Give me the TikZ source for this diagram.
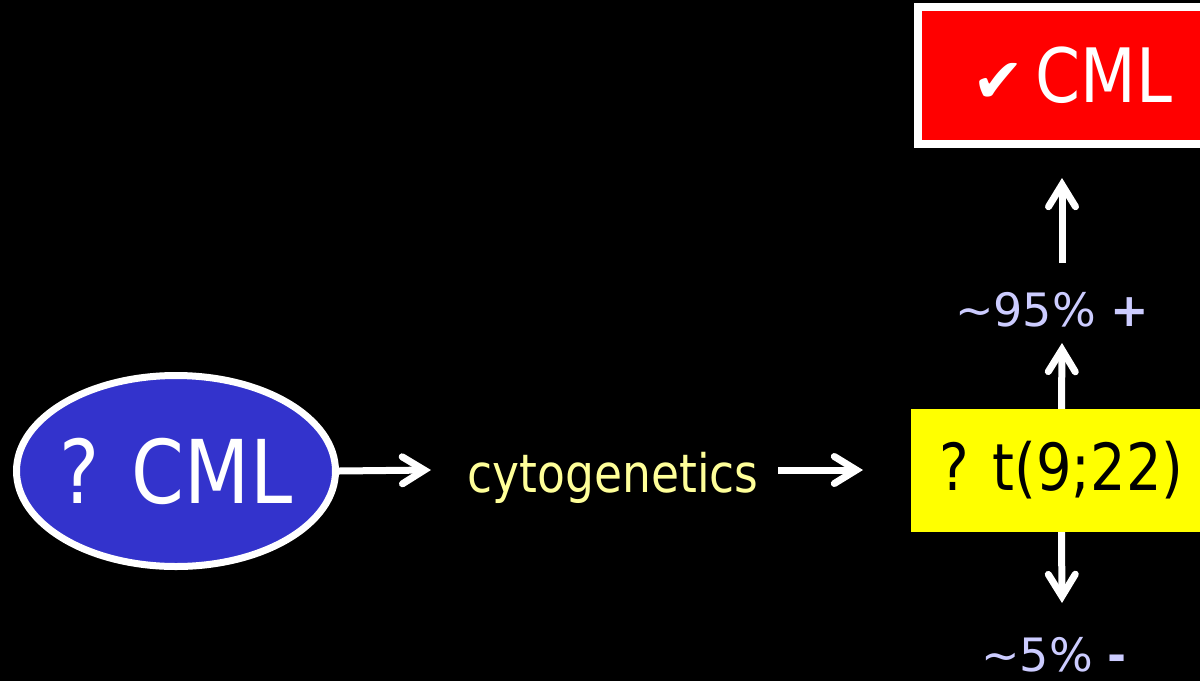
\documentclass[tikz,border=0pt]{standalone}
\usepackage{fontspec}
\setmainfont{DejaVu Sans}[FakeStretch=0.86]
\newfontfamily\plainfont{DejaVu Sans}
\usetikzlibrary{arrows.meta,shapes.geometric,positioning}
\definecolor{ovalblue}{HTML}{3333CC}
\definecolor{testyellow}{HTML}{FFFF99}
\definecolor{pctlilac}{HTML}{CCCCFF}
\definecolor{boxyellow}{HTML}{FFFF00}
\definecolor{boxred}{HTML}{FF0000}

\begin{document}
\begin{tikzpicture}[x=1pt,y=-1pt,
		flow/.style={draw=white, line width=7pt, -{Straight Barb[length=22pt,width=27pt,line cap=round,line join=miter]}},
		pct/.style={anchor=base, text=pctlilac, inner sep=0pt, font=\plainfont\fontsize{46}{46}\selectfont}]
	\useasboundingbox (0,0) rectangle (1200,681);
	\clip (0,0) rectangle (1200,681);
	\fill[black] (0,0) rectangle (1200,681);
	% where things sit
	\coordinate (ovalc) at (176,471);
	\coordinate (cytob) at (613,492);
	\coordinate (transc) at (1061.5,470.5);
	\coordinate (cmlc) at (1072.5,75.5);
	\coordinate (cytoin) at (431,470);
	\coordinate (cytoout) at (778,470);
	\coordinate (transin) at (863,470);
	\coordinate (upone) at (1062,343);
	\coordinate (uptwo) at (1062,263);
	\coordinate (uptop) at (1062,178);
	\coordinate (downend) at (1062,603);
	% boxes and labels
	\node (oval) at (ovalc) [shape=ellipse, draw=white, line width=7pt, fill=ovalblue, minimum width=319pt, minimum height=191pt, inner sep=0pt,
		label={[text=white, inner sep=0pt, font=\fontsize{88}{88}\selectfont]center:? CML}] {};
	\node (cyto) at (cytob) [anchor=base, inner sep=0pt, text=testyellow, font=\fontsize{53}{53}\selectfont] {cytogenetics};
	\node (trans) at (transc) [shape=rectangle, fill=boxyellow, minimum width=301pt, minimum height=123pt, inner sep=0pt, text=black, font=\fontsize{65}{65}\selectfont] {? t(9;22)};
	\node (cml) at (cmlc) [shape=rectangle, draw=white, line width=8pt, fill=boxred, minimum width=309pt, minimum height=137pt, inner sep=0pt, text=white, font=\fontsize{75}{75}\selectfont] {{\plainfont\fontsize{62}{62}\selectfont ✔}\hspace{11pt}CML};
	\node (plus) at (1052,326) [pct] {\textasciitilde 95\% {\bfseries +}};
	\node (minus) at (1054,671) [pct] {\textasciitilde 5\% {\bfseries -}};
	% arrows
	\draw[flow] (oval.east) -- (cytoin);
	\draw[flow] (cytoout) -- (transin);
	\draw[flow] (trans.north) -- (upone);
	\draw[flow] (uptwo) -- (uptop);
	\draw[flow] (trans.south) -- (downend);
\end{tikzpicture}
\end{document}
